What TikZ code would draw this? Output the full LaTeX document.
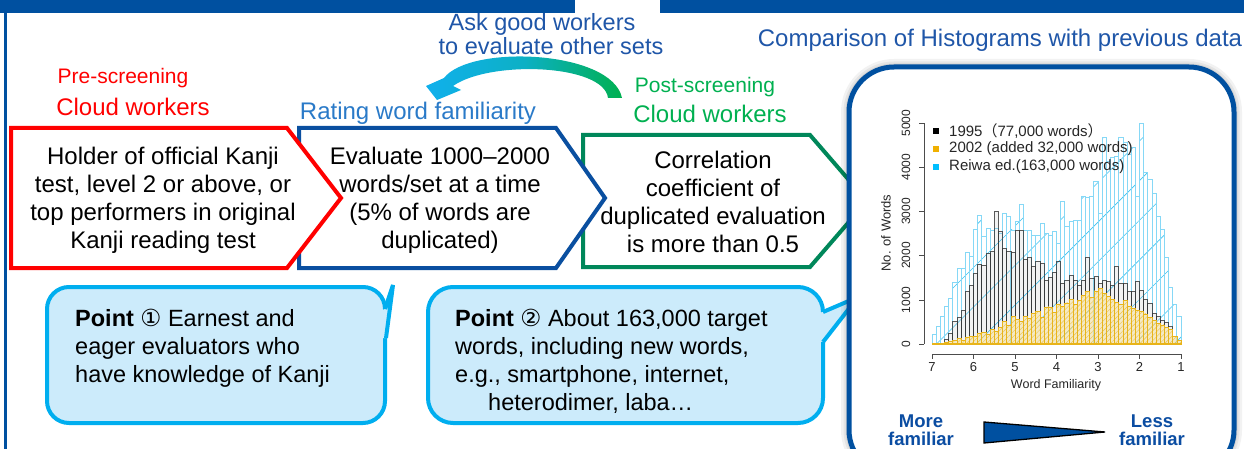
\documentclass[tikz,border=0pt]{standalone}
\usepackage{fontspec}
\setmainfont{Liberation Sans}
\newfontfamily\symfont{DejaVu Sans}
\newfontfamily\cjkfont{Noto Sans CJK JP}
\usetikzlibrary{patterns.meta}
\newcommand\setfs[2]{\fontsize{#1}{#2}\selectfont}
\definecolor{hdrblue}{HTML}{0050A0}
\definecolor{boxred}{HTML}{FF0000}
\definecolor{boxblue}{HTML}{0A4FA0}
\definecolor{boxgreen}{HTML}{00875A}
\definecolor{lblblue}{HTML}{2A7AC8}
\definecolor{lblgreen}{HTML}{00B050}
\definecolor{askblue}{HTML}{1F56A8}
\definecolor{callfill}{HTML}{CCEBFB}
\definecolor{callline}{HTML}{00AEEF}
\definecolor{cyanbar}{HTML}{86D8F6}
\definecolor{cyanhatch}{HTML}{3EC3F2}
\definecolor{yelbar}{HTML}{E8B41A}
\definecolor{yelfill}{HTML}{F7E3A0}
\definecolor{arrowcyan}{HTML}{10B0EC}
\definecolor{arrowgreen}{HTML}{00B050}
\definecolor{famblue}{HTML}{0B4DA2}
\definecolor{legorange}{HTML}{F0B000}
\definecolor{legcyan}{HTML}{00BFFF}
\def\cyv{220,400,620,840,1040,1400,1700,1720,2080,1980,2600,2920,2430,2620,2580,2620,2500,2950,2880,2580,2780,3160,2560,2560,2450,2450,2720,2510,2450,2540,2280,3230,2650,2780,2790,2790,3330,3320,3350,3670,2960,4670,4140,4210,4240,4670,4550,4280,4440,3330,5000,3890,3730,3410,2880,2600,1970,1270,900,630}
\def\bkv{0,0,20,110,250,520,600,770,1180,1330,1600,1800,1790,2050,2090,3000,2540,2170,2100,2080,2580,2570,1920,1950,1750,1860,1820,1450,1500,1620,1860,1380,1450,1560,1450,1330,1450,1960,1480,1520,1380,1450,1420,1320,1760,1380,1380,1200,1180,1420,1220,1000,930,700,620,540,500,390,165,90}
\def\yev{0,0,10,30,50,80,120,90,150,180,180,230,260,210,330,290,380,520,430,620,560,520,620,580,700,730,610,820,840,720,900,850,930,1000,900,980,1100,1180,1050,1200,1260,1150,1070,1000,940,900,980,850,800,760,730,680,600,540,470,430,380,330,165,90}
\begin{document}
\begin{tikzpicture}[x=1pt,y=-1pt,
  boxtxt/.style={font=\setfs{24}{28}, align=center, inner sep=0pt, text=black},
  lbl/.style={inner sep=0pt, font=\setfs{24}{26}},
  chev/.style={line width=4pt, fill=white, line join=miter},
  callout/.style={line width=4pt, draw=callline, fill=callfill},
  calltxt/.style={font=\setfs{23.5}{28}, align=left, inner sep=0pt, anchor=north west, text=black},
  cyanst/.style={draw=cyanbar, line width=0.8pt, pattern={Lines[angle=45,distance=28pt,line width=0.6pt]}, pattern color=cyanhatch},
  blackst/.style={draw=black!80, draw opacity=0.8, line width=0.7pt, fill=black!40, fill opacity=0.12},
  yelfillst/.style={fill=yelfill, fill opacity=0.55},
  yelst/.style={draw=yelbar, line width=0.7pt, pattern={Lines[angle=45,distance=3.5pt,line width=0.4pt]}, pattern color=yelbar!80},
  ticklbl/.style={font=\setfs{12}{14}, inner sep=0pt, text=black!85},
  famtxt/.style={font=\bfseries\setfs{18.5}{18}, align=center, inner sep=0pt, text=famblue}
]
\useasboundingbox (0,0) rectangle (1244,449);
% header bars and left frame
\fill[hdrblue] (0,0) rectangle (575,13);
\fill[hdrblue] (660,0) rectangle (1244,13);
\fill[hdrblue] (3.5,0) rectangle (6.5,449);

% chevron boxes
\draw[chev, draw=boxgreen] (583,135) -- (810,135) -- (867,201) -- (810,267) -- (583,267) -- cycle;
\draw[chev, draw=boxblue] (299,128) -- (556,128) -- (605,198) -- (556,268) -- (299,268) -- cycle;
\draw[chev, draw=boxred] (11,128) -- (287,128) -- (341,198) -- (287,268) -- (11,268) -- cycle;

\node[boxtxt] (redtxt) at (163,200) {Holder of official Kanji\\test, level 2 or above, or\\top performers in original\\Kanji reading test};
\node[boxtxt] (bluetxt) at (440,200) {Evaluate 1000–2000\\words/set at a time\\(5\% of words are\\duplicated)};
\node[boxtxt] (greentxt) at (713,202) {Correlation\\coefficient of\\duplicated evaluation\\is more than 0.5};

% labels above
\node[lbl, text=boxred, font=\setfs{21}{24}] (pre1) at (123,78) {Pre-screening};
\node[lbl, text=boxred] (pre2) at (133,107) {Cloud workers};
\node[lbl, text=lblblue] (rate) at (418,113) {Rating word familiarity};
\node[lbl, text=lblgreen, font=\setfs{21}{24}] (post1) at (705,87) {Post-screening};
\node[lbl, text=lblgreen] (post2) at (710,114) {Cloud workers};
\node[lbl, text=askblue, font=\setfs{23.5}{26}] (ask1) at (542,24) {Ask good workers};
\node[lbl, text=askblue, font=\setfs{23.5}{26}] (ask2) at (551,46) {to evaluate other sets};
\node[lbl, text=askblue] (cmp) at (1000,40) {Comparison of Histograms with previous data};

% curved arrow
\shade[left color=arrowcyan, right color=arrowgreen, middle color=arrowcyan!75!arrowgreen]
  (622,98) .. controls (612,50) and (470,44) .. (444,78) -- (426,86) -- (437,100) -- (461,90) -- (453,86)
  .. controls (490,60) and (604,64) .. (608,98) -- cycle;

% callouts
\draw[callout, rounded corners=22pt] (47,287) rectangle (385,423);
\fill[callfill] (379,311) -- (385,309) -- (393,285) -- (386,338) -- (379,338) -- cycle;
\draw[line width=4pt, callline, line join=miter] (385,309) -- (393,285) -- (386,338);
\node[calltxt] (pt1) at (75,309) {\textbf{Point} {\symfont ①} Earnest and\\eager evaluators who\\have knowledge of Kanji};

\draw[callout, rounded corners=25pt] (428,287) rectangle (823,423);
\fill[callfill] (817,313) -- (823,312) -- (858,297) -- (823,342) -- (817,341) -- cycle;
\draw[line width=4pt, callline, line join=miter] (823,312) -- (858,297) -- (823,342);
\node[calltxt] (pt2) at (455,309) {\textbf{Point} {\symfont ②} About 163,000 target\\words, including new words,\\e.g., smartphone, internet,\\\hspace*{33pt}heterodimer, laba…};

% right panel with shadow
\draw[black, opacity=0.05, line width=16pt, rounded corners=45pt] (849,67) rectangle (1234,475);
\draw[black, opacity=0.06, line width=11pt, rounded corners=45pt] (849,67) rectangle (1234,475);
\draw[black, opacity=0.07, line width=7pt, rounded corners=45pt] (849,67) rectangle (1234,475);
\draw[hdrblue, line width=5pt, fill=white, rounded corners=45pt] (849,67) rectangle (1234,475);

% histogram bars
\foreach \v [count=\i from 0] in \cyv {
  \draw[cyanst] ({932+\i*4.15},344) rectangle ({932+(\i+1)*4.15},{344-\v*0.0442});
}
\foreach \v [count=\i from 0] in \bkv {
  \ifnum\v>0
  \draw[blackst] ({932+\i*4.15},344) rectangle ({932+(\i+1)*4.15},{344-\v*0.0442});
  \fi
}
\foreach \v [count=\i from 0] in \yev {
  \ifnum\v>0
  \fill[yelfillst] ({932+\i*4.15},344) rectangle ({932+(\i+1)*4.15},{344-\v*0.0442});
  \draw[yelst] ({932+\i*4.15},344) rectangle ({932+(\i+1)*4.15},{344-\v*0.0442});
  \fi
}
\draw[yelbar, line width=1.2pt] (932,344) -- (1181,344);

% axes
\draw[black!70, line width=0.6pt] (924,344) -- (924,123);
\foreach \k in {0,1,2,3,4,5} {
  \draw[black!70, line width=0.6pt] (924,{344-\k*44.2}) -- (919,{344-\k*44.2});
}
\node[ticklbl, rotate=90] (y0) at (906,344) {0};
\node[ticklbl, rotate=90] (y1) at (906,299.8) {1000};
\node[ticklbl, rotate=90] (y2) at (906,255.6) {2000};
\node[ticklbl, rotate=90] (y3) at (906,211.4) {3000};
\node[ticklbl, rotate=90] (y4) at (906,167.2) {4000};
\node[ticklbl, rotate=90] (y5) at (906,123) {5000};
\node[ticklbl, rotate=90, font=\setfs{13}{14}] (ylab) at (886,233) {No. of Words};
\draw[black!70, line width=0.6pt] (932,354) -- (1181,354);
\foreach \k in {7,6,5,4,3,2,1} {
  \draw[black!70, line width=0.6pt] ({932+(7-\k)*41.5},354) -- ({932+(7-\k)*41.5},359);
  \node[ticklbl, font=\setfs{13}{14}] (x\k) at ({932+(7-\k)*41.5},367) {\k};
}
\node[ticklbl, font=\setfs{12.5}{14}] (xlab) at (1056,385) {Word Familiarity};

% legend
\fill[black] (933,128) rectangle (939,134);
\fill[legorange] (933,146) rectangle (939,152);
\fill[legcyan] (933,164) rectangle (939,170);
\node[ticklbl, anchor=west, font=\setfs{15}{16}] (leg1) at (949,131) {1995{\cjkfont （}77,000 words{\cjkfont ）}};
\node[ticklbl, anchor=west, font=\setfs{15}{16}] (leg2) at (949,149) {2002 (added 32,000 words)};
\node[ticklbl, anchor=west, font=\setfs{15}{16}] (leg3) at (949,167) {Reiwa ed.(163,000 words)};

% familiarity wedge
\node[famtxt] (more) at (921,430) {More\\familiar};
\node[famtxt] (less) at (1152,430) {Less\\familiar};
\draw[black, line width=1.3pt, fill=hdrblue, line join=miter] (984,422) -- (1105,432) -- (984,443) -- cycle;
\end{tikzpicture}
\end{document}
